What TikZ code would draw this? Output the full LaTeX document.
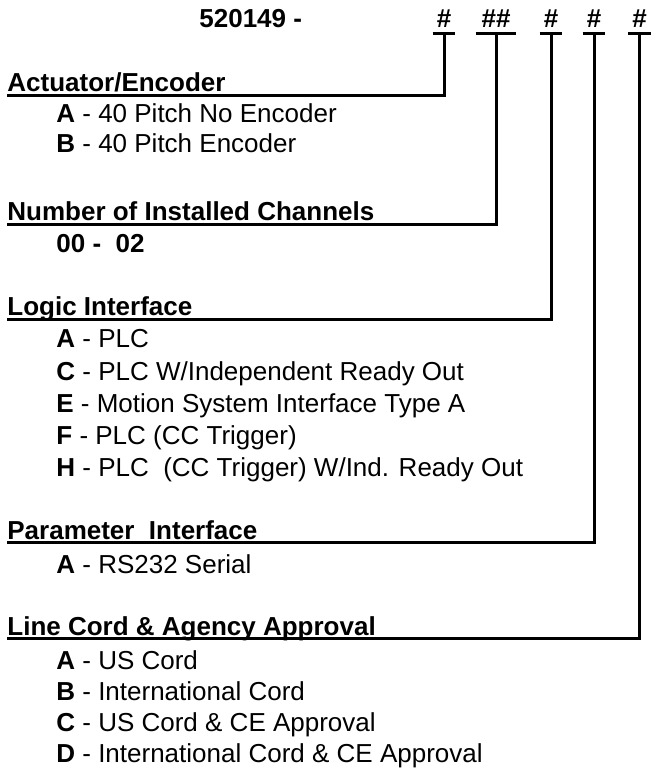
\documentclass[tikz,border=0pt]{standalone}
\usepackage{fontspec}
\setmainfont{Liberation Sans}
\begin{document}
\begin{tikzpicture}[x=0.5pt, y=-0.5pt,
    rule/.style={line width=1.5pt},
    codepart/.style={font=\fontsize{13}{15}\selectfont\bfseries, anchor=base, inner xsep=0pt, inner ysep=2.5pt, text depth=0pt},
    grouphead/.style={font=\fontsize{13}{15}\selectfont\bfseries, anchor=base west, inner xsep=0pt, inner ysep=1.5pt, text depth=0pt},
    optline/.style={font=\fontsize{13}{15}\selectfont, anchor=base west, inner sep=0pt}
  ]
  \useasboundingbox (0,0) rectangle (650,774);

  % part number
  \node[codepart, anchor=base west] (pn) at (199,28) {520149 -};
  \node[codepart, minimum width=11pt] (c1) at (444,28) {\#};
  \node[codepart, minimum width=20pt] (c2) at (496,28) {\#\#};
  \node[codepart, minimum width=11pt] (c3) at (551,28) {\#};
  \node[codepart, minimum width=11pt] (c4) at (594,28) {\#};
  \node[codepart, minimum width=11pt] (c5) at (639.5,28) {\#};
  \foreach \c in {c1,c2,c3,c4,c5}
    \draw[rule] (\c.south west) -- (\c.south east);

  % groups
  \node[grouphead] (actu) at (7,92) {Actuator/Encoder};
  \node[optline] (actuA) at (56,123) {\textbf{A} - 40 Pitch No Encoder};
  \node[optline] (actuB) at (56,153) {\textbf{B} - 40 Pitch Encoder};

  \node[grouphead] (chan) at (7,221) {Number of Installed Channels};
  \node[optline, font=\fontsize{13}{15}\selectfont\bfseries] (chanR) at (56,253) {00 -~ 02};

  \node[grouphead] (logic) at (7,316) {Logic Interface};
  \node[optline] (logicA) at (56,348) {\textbf{A} - PLC};
  \node[optline] (logicC) at (56,380) {\textbf{C} - PLC W/Independent Ready Out};
  \node[optline] (logicE) at (56,412) {\textbf{E} - Motion System Interface Type A};
  \node[optline] (logicF) at (56,444) {\textbf{F} - PLC (CC Trigger)};
  \node[optline] (logicH) at (56,476) {\textbf{H} - PLC~ (CC Trigger) W/Ind. Ready Out};

  \node[grouphead] (param) at (7,539) {Parameter~ Interface};
  \node[optline] (paramA) at (56,573) {\textbf{A} - RS232 Serial};

  \node[grouphead] (cord) at (7,635) {Line Cord \& Agency Approval};
  \node[optline] (cordA) at (56,669) {\textbf{A} - US Cord};
  \node[optline] (cordB) at (56,700) {\textbf{B} - International Cord};
  \node[optline] (cordC) at (56,731) {\textbf{C} - US Cord \& CE Approval};
  \node[optline] (cordD) at (56,762) {\textbf{D} - International Cord \& CE Approval};

  % leaders
  \draw[rule] (c1.south) |- (actu.south west);
  \draw[rule] (c2.south) |- (chan.south west);
  \draw[rule] (c3.south) |- (logic.south west);
  \draw[rule] (c4.south) |- (param.south west);
  \draw[rule] (c5.south) |- (cord.south west);
\end{tikzpicture}
\end{document}
